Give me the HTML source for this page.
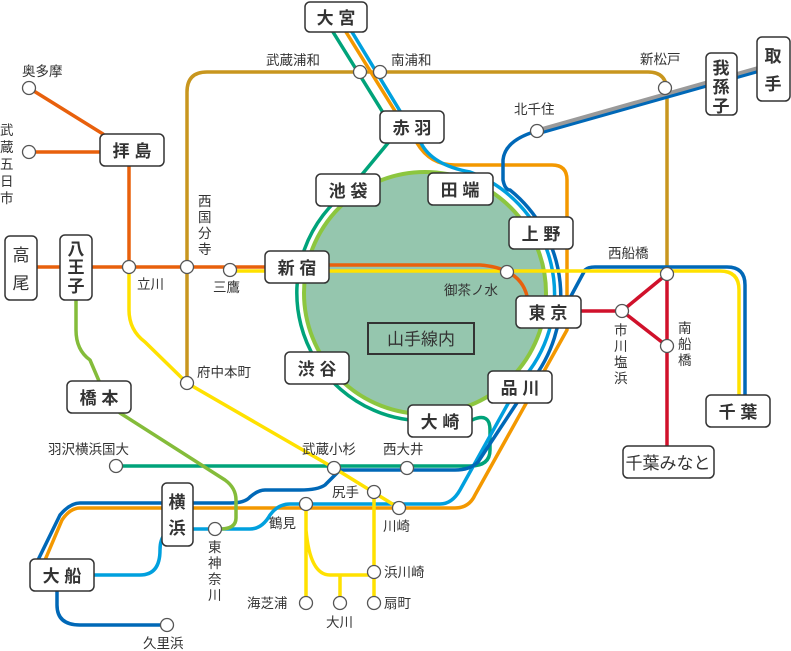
<!DOCTYPE html>
<html><head><meta charset="utf-8"><style>
html,body{margin:0;padding:0;background:#fff}
svg{display:block}
text{font-family:"Liberation Sans","Noto Sans CJK JP",sans-serif;fill:#333}
.l{font-size:13.5px}
.b{font-size:17px;font-weight:bold;fill:#222}
</style></head><body>
<svg width="791" height="651" viewBox="0 0 791 651" xmlns="http://www.w3.org/2000/svg">
<g fill="none" stroke-width="3.5" stroke-linecap="round" stroke-linejoin="round">
<circle cx="425" cy="293" r="121" fill="#95c6ae" stroke="#8cc63f" stroke-width="4"/>
<path d="M187,383 V92 Q187,72 207,72 H648 Q667,72 667,92 V274" stroke="#c8961e"/>
<path d="M333,32 L382,111 M388,143 L350,189 A128,128 0 0 0 410,420" stroke="#00a37a"/>
<path d="M472,420 Q490,412 490,430 V450 Q490,466 470,466 H116" stroke="#00a37a"/>
<path d="M346,32 L395,111 M417,143 Q430,165 455,165 H552 Q567,165 567,180 V330 L475,495 Q469,508 455,508 H80 Q70,508 62,520 L45,560" stroke="#f39800"/>
<path d="M352,32 L400,111 M421,143 Q432,165 470,172 A130,130 0 0 1 520,382 L460,490 Q452,504 440,504 H290 Q278,504 270,515 Q262,529 250,529 H180 Q160,529 160,550 Q160,575 140,575 H94" stroke="#00a0de"/>
<path d="M537,131 Q505,140 503,160 V180 Q505,190 510,190 A137,137 0 0 1 530,383 L478,462 Q470,470 455,470 H340 L325,485 Q318,490 300,490 H265 Q258,490 250,497 Q245,503 230,503 H80 Q70,503 60,515 L38,560" stroke="#0068b7"/>
<path d="M57,591 V605 Q57,625 80,625 H167" stroke="#0068b7"/>
<path d="M571,296 L585,270 Q588,267 595,267 H727 Q745,267 745,285 V395" stroke="#0068b7"/>
<path d="M537,131 L760,68" stroke="#9a9a9a" stroke-width="5"/>
<path d="M537,134 L760,71" stroke="#0068b7" stroke-width="3"/>
<path d="M230,271 H329 M329,271 H720 Q739,271 739,290 V395" stroke="#ffe100"/>
<path d="M37,267 H265 M329,265 H480 Q520,268 527,296" stroke="#e8600c"/>
<path d="M129,267 V166 M103,134 L29,88 M100,152 H29" stroke="#e8600c"/>
<path d="M129,267 V310 Q129,330 145,342 L187,383 L334,468 L399,508" stroke="#ffe100"/>
<path d="M374,492 V603 M306,504 V603 M306,530 Q310,575 330,575 H374 M340,575 V603" stroke="#ffe100"/>
<path d="M76,300 V330 Q76,350 90,360 L99,381 M120,413 L225,480 Q236,488 236,500 V518 Q236,529 220,529" stroke="#84bc3a"/>
<path d="M581,311 H622 L667,274 M622,311 L667,346 M667,274 V446" stroke="#d0112b"/>
</g>
<g fill="#fff" stroke="#555" stroke-width="1.3">
<circle cx="29" cy="88" r="6.5"/><circle cx="29" cy="152" r="6.5"/><circle cx="129" cy="267" r="6.5"/>
<circle cx="187" cy="267" r="6.5"/><circle cx="230" cy="270" r="6.5"/><circle cx="187" cy="383" r="6.5"/>
<circle cx="360" cy="72" r="6.5"/><circle cx="380" cy="72" r="6.5"/><circle cx="537" cy="131" r="6.5"/>
<circle cx="665" cy="88" r="6.5"/><circle cx="507" cy="272" r="6.5"/><circle cx="667" cy="274" r="6.5"/>
<circle cx="622" cy="311" r="6.5"/><circle cx="667" cy="346" r="6.5"/><circle cx="116" cy="466" r="6.5"/>
<circle cx="334" cy="468" r="6.5"/><circle cx="407" cy="468" r="6.5"/><circle cx="374" cy="492" r="6.5"/>
<circle cx="399" cy="508" r="6.5"/><circle cx="306" cy="504" r="6.5"/><circle cx="215" cy="529" r="6.5"/>
<circle cx="374" cy="572" r="6.5"/><circle cx="306" cy="603" r="6.5"/><circle cx="340" cy="603" r="6.5"/>
<circle cx="374" cy="603" r="6.5"/><circle cx="167" cy="625" r="6.5"/>
</g>
<g fill="#fff" stroke="#333" stroke-width="1.5">
<rect x="305" y="2" width="62" height="30" rx="5"/>
<rect x="380" y="111" width="64" height="32" rx="5"/>
<rect x="316" y="174" width="64" height="32" rx="5"/>
<rect x="428" y="173" width="65" height="32" rx="5"/>
<rect x="509" y="217" width="64" height="32" rx="5"/>
<rect x="265" y="251" width="64" height="32" rx="5"/>
<rect x="516" y="296" width="65" height="32" rx="5"/>
<rect x="368" y="323" width="106" height="31" rx="0" fill="none" stroke-width="2"/>
<rect x="285" y="352" width="64" height="32" rx="5"/>
<rect x="488" y="371" width="64" height="32" rx="5"/>
<rect x="408" y="405" width="64" height="32" rx="5"/>
<rect x="706" y="395" width="64" height="32" rx="5"/>
<rect x="623" y="446" width="91" height="32" rx="5"/>
<rect x="706" y="53" width="31" height="62" rx="5"/>
<rect x="757" y="37" width="33" height="64" rx="5"/>
<rect x="100" y="134" width="64" height="32" rx="5"/>
<rect x="5" y="236" width="32" height="64" rx="5"/>
<rect x="60" y="235" width="32" height="65" rx="5"/>
<rect x="67" y="381" width="64" height="32" rx="5"/>
<rect x="162" y="483" width="31" height="63" rx="5"/>
<rect x="30" y="559" width="64" height="32" rx="5"/>
</g>
<g class="b" text-anchor="middle">
<text x="336" y="24">大 宮</text><text x="412" y="134">赤 羽</text><text x="348" y="197">池 袋</text>
<text x="460" y="196">田 端</text><text x="541" y="240">上 野</text><text x="297" y="274">新 宿</text>
<text x="548" y="319">東 京</text><text x="421" y="345" style="font-weight:normal;font-size:17px">山手線内</text>
<text x="317" y="375">渋 谷</text><text x="520" y="394">品 川</text><text x="440" y="428">大 崎</text>
<text x="738" y="418">千 葉</text><text x="668" y="469" style="font-weight:normal">千葉みなと</text>
<text x="132" y="157">拝 島</text><text x="99" y="404">橋 本</text><text x="62" y="582">大 船</text>
<text x="21" y="261" style="font-weight:normal">高</text><text x="21" y="289" style="font-weight:normal">尾</text>
<text x="76" y="255">八</text><text x="76" y="273">王</text><text x="76" y="292">子</text>
<text x="177" y="508">横</text><text x="177" y="534">浜</text>
<text x="721" y="74">我</text><text x="721" y="93">孫</text><text x="721" y="112">子</text>
<text x="773" y="62">取</text><text x="773" y="90">手</text>
</g>
<g class="l">
<text x="22" y="76">奥多摩</text>
<text x="0" y="135">武</text><text x="0" y="152">蔵</text><text x="0" y="169">五</text><text x="0" y="186">日</text><text x="0" y="203">市</text>
<text x="198" y="206">西</text><text x="198" y="222">国</text><text x="198" y="238">分</text><text x="198" y="254">寺</text>
<text x="137" y="289">立川</text><text x="213" y="292">三鷹</text><text x="197" y="377">府中本町</text>
<text x="266" y="65">武蔵浦和</text><text x="391" y="65">南浦和</text><text x="514" y="114">北千住</text>
<text x="640" y="64">新松戸</text><text x="444" y="295">御茶ノ水</text><text x="608" y="258">西船橋</text>
<text x="614" y="335">市</text><text x="614" y="351">川</text><text x="614" y="367">塩</text><text x="614" y="383">浜</text>
<text x="678" y="333">南</text><text x="678" y="349">船</text><text x="678" y="365">橋</text>
<text x="48" y="454">羽沢横浜国大</text><text x="302" y="454">武蔵小杉</text><text x="383" y="454">西大井</text>
<text x="332" y="497">尻手</text><text x="383" y="531">川崎</text><text x="269" y="528">鶴見</text>
<text x="208" y="552">東</text><text x="208" y="568">神</text><text x="208" y="584">奈</text><text x="208" y="600">川</text>
<text x="384" y="577">浜川崎</text><text x="247" y="608">海芝浦</text><text x="326" y="627">大川</text><text x="384" y="608">扇町</text>
<text x="143" y="648">久里浜</text>
</g>
</svg>
</body></html>
